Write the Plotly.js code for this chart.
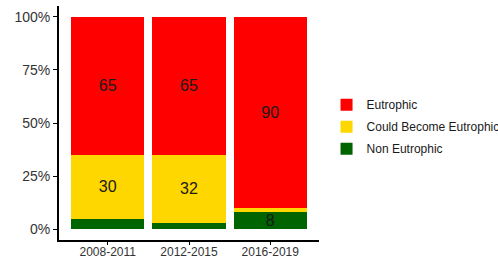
<!DOCTYPE html>
<html>
<head>
<meta charset="utf-8">
<script src="https://cdn.plot.ly/plotly-3.0.1.min.js"></script>
<style>html,body{margin:0;padding:0;background:#fff;}#chart{width:498px;height:258px;}</style>
</head>
<body>
<div id="chart"></div>
<script>
const periods = ["2008-2011", "2012-2015", "2016-2019"];
const nonEutrophic = [5, 3, 8];
const couldBecome = [30, 32, 2];
const eutrophic = [65, 65, 90];
const seriesNames = ["Non Eutrophic", "Could Become Eutrophic", "Eutrophic"];
const seriesColors = ["#006400", "#FFD700", "#FF0000"];
const yTickVals = [0, 25, 50, 75, 100];
const yTickText = ["0%", "25%", "50%", "75%", "100%"];
const labelMin = 5;

const seriesValues = [nonEutrophic, couldBecome, eutrophic];
const traces = seriesValues.map((vals, i) => ({
  type: "bar",
  name: seriesNames[i],
  legendgroup: "g" + i,
  legendrank: 1000 + (seriesValues.length - i),
  x: periods,
  y: vals,
  marker: {color: seriesColors[i], line: {width: 0}},
  text: vals.map(v => v > labelMin ? String(v) : ""),
  textposition: "inside",
  insidetextanchor: "middle",
  textangle: 0,
  constraintext: "none",
  textfont: {family: "Liberation Sans, Arial, sans-serif", size: 16, color: "#1a1a1a"},
  hoverinfo: "skip"
}));

const layout = {
  width: 498, height: 258,
  margin: {l: 59, r: 179, t: 6, b: 18, autoexpand: false},
  paper_bgcolor: "#fff", plot_bgcolor: "#fff",
  barmode: "stack", barnorm: "percent", bargap: 0.1,
  font: {family: "Liberation Sans, Arial, sans-serif", color: "#333"},
  xaxis: {
    type: "category", range: [-0.6, 2.6],
    showline: true, linecolor: "#000", linewidth: 2,
    ticks: "outside", ticklen: 3, tickcolor: "#000", tickwidth: 1,
    ticklabelstandoff: -3,
    showgrid: false, zeroline: false, automargin: false,
    tickfont: {size: 12, color: "#333"}
  },
  yaxis: {
    range: [-5, 105], tickvals: yTickVals, ticktext: yTickText,
    showline: true, linecolor: "#000", linewidth: 2,
    ticks: "outside", ticklen: 4, tickcolor: "#000", tickwidth: 1,
    showgrid: false, zeroline: false, automargin: false,
    tickfont: {size: 14, color: "#333"}
  },
  showlegend: true,
  legend: {
    x: 1.029, xanchor: "left", y: 0.64, yanchor: "top",
    traceorder: "grouped", tracegroupgap: 3,
    font: {size: 12, color: "#1a1a1a"},
    bgcolor: "rgba(0,0,0,0)"
  }
};

Plotly.newPlot("chart", traces, layout, {displayModeBar: false, staticPlot: true});
</script>
</body>
</html>
